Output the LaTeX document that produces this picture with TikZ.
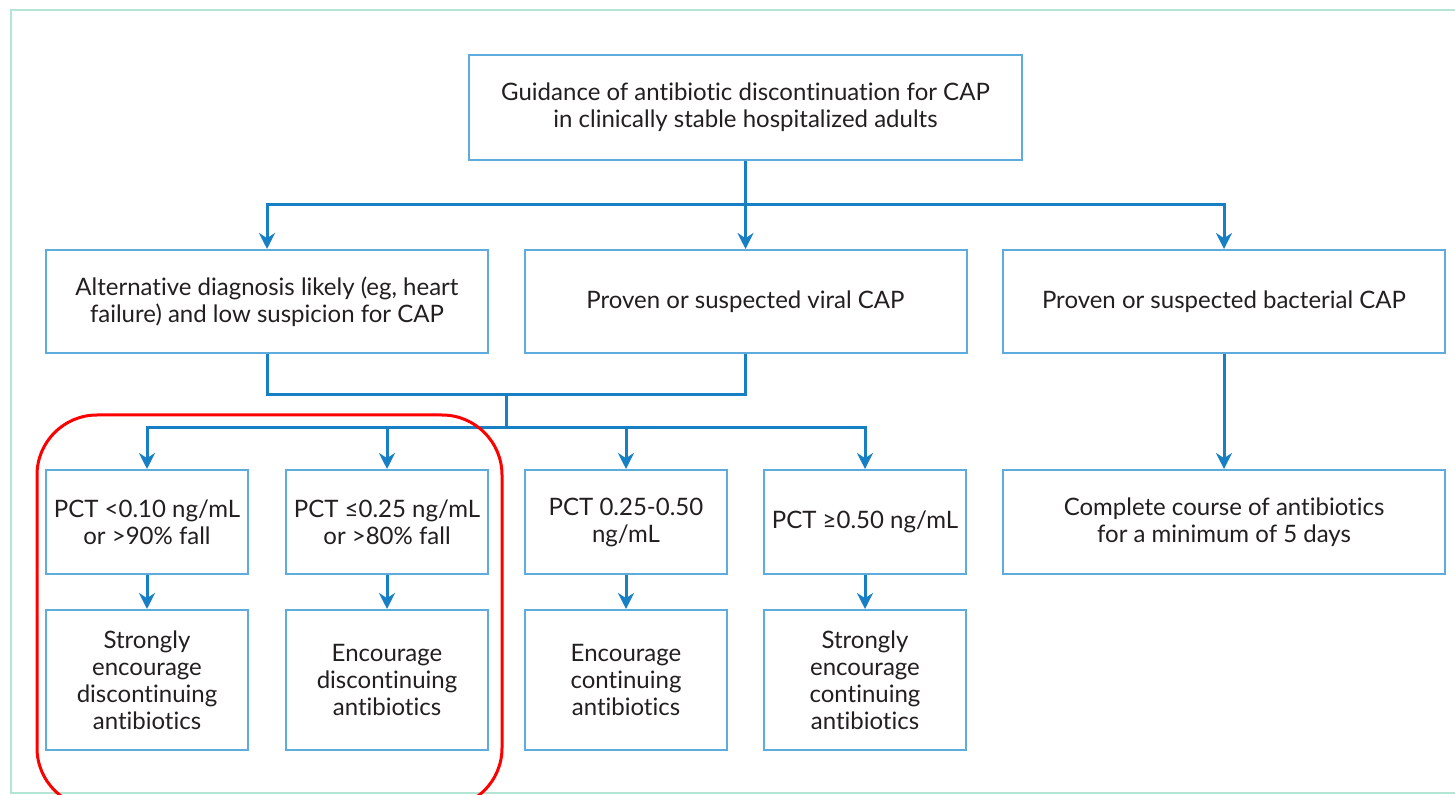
\documentclass[tikz,border=0pt]{standalone}
\usepackage{fontspec}
\setmainfont[Ligatures=NoCommon]{Lato}
\usetikzlibrary{arrows.meta}
\definecolor{boxline}{HTML}{5EACDD}
\definecolor{connline}{HTML}{1780C4}
\definecolor{mint}{HTML}{B4E4D4}
\definecolor{txt}{HTML}{231F20}
\definecolor{redline}{HTML}{FF0000}
\tikzset{
  box/.style={draw=boxline, line width=1pt, fill=white, align=center, inner sep=0pt,
    text=txt, font=\fontsize{12}{13.5}\selectfont},
  wide/.style={box, minimum width=221pt, minimum height=51.5pt},
  narrow/.style={box, minimum width=101pt, minimum height=52pt},
  tall/.style={box, minimum width=101pt, minimum height=70pt},
  conn/.style={draw=connline, line width=1.5pt},
  arr/.style={conn, -{Stealth[length=8pt,width=8pt]}},
}
\begin{document}
\begin{tikzpicture}[x=0.5pt, y=-0.5pt]
\useasboundingbox (0,0) rectangle (1455,795);
\clip (0,0) rectangle (1455,795);
% frame
\draw[mint, line width=1.2pt] (1470,10) -- (11,10) -- (11,793) -- (1470,793);
% nodes
\node[box, minimum width=276.5pt, minimum height=52.5pt] (top) at (745.5,107.5)
  {Guidance of antibiotic discontinuation for CAP\\in clinically stable hospitalized adults};
\node[wide] (A) at (267,301.5) {Alternative diagnosis likely (eg, heart\\failure) and low suspicion for CAP};
\node[wide] (B) at (745.5,301.5) {Proven or suspected viral CAP};
\node[wide] (C) at (1224,301.5) {Proven or suspected bacterial CAP};
\node[narrow] (D) at (147,522) {PCT <0.10 ng/mL\\or >90\% fall};
\node[narrow] (E) at (387,522) {PCT ≤0.25 ng/mL\\or >80\% fall};
\node[narrow] (F) at (626,522) {PCT 0.25-0.50\\ng/mL};
\node[narrow] (G) at (865,522) {PCT ≥0.50 ng/mL};
\node[wide, minimum height=52pt] (H) at (1224,522) {Complete course of antibiotics\\for a minimum of 5 days};
\node[tall] (D2) at (147,680) {Strongly\\encourage\\discontinuing\\antibiotics};
\node[tall] (E2) at (387,680) {Encourage\\discontinuing\\antibiotics};
\node[tall] (F2) at (626,680) {Encourage\\continuing\\antibiotics};
\node[tall] (G2) at (865,680) {Strongly\\encourage\\continuing\\antibiotics};
% junctions
\coordinate (j1) at (745.5,205);
\coordinate (j2) at (506,395);
\coordinate (j3) at (506,428);
% connectors
\draw[conn] (top.south) -- (j1);
\draw[arr] (j1) -| (A.north);
\draw[arr] (j1) -- (B.north);
\draw[arr] (j1) -| (C.north);
\draw[conn] (A.south) |- (j2) -| (B.south);
\draw[conn] (j2) -- (j3);
\draw[arr] (j3) -| (D.north);
\draw[arr] (j3) -| (E.north);
\draw[arr] (j3) -| (F.north);
\draw[arr] (j3) -| (G.north);
\draw[arr] (D.south) -- (D2.north);
\draw[arr] (E.south) -- (E2.north);
\draw[arr] (F.south) -- (F2.north);
\draw[arr] (G.south) -- (G2.north);
\draw[arr] (C.south) -- (H.north);
% highlight
\draw[redline, line width=1.5pt, rounded corners=30pt] (37,415) rectangle (502,808);
\end{tikzpicture}
\end{document}
